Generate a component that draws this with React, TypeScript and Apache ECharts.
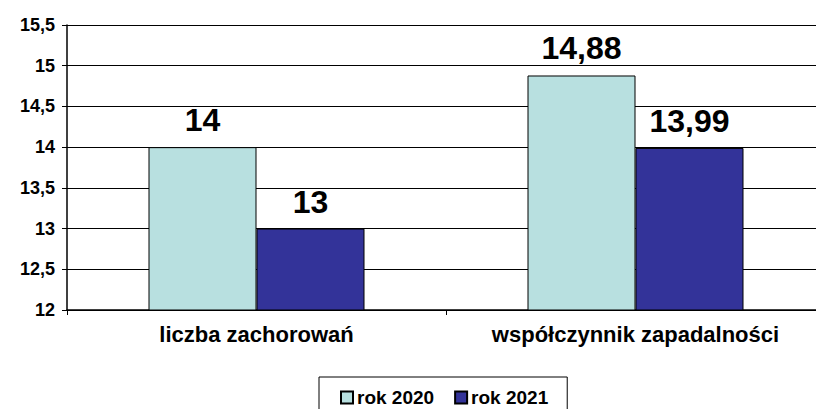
import React, { useEffect, useRef } from "react";
import * as echarts from "echarts";

const categories = ["liczba zachorowań", "współczynnik zapadalności"];
const series2020 = [14, 14.88];
const series2021 = [13, 13.99];
const seriesNames = ["rok 2020", "rok 2021"];

const fmt = (v: number) => String(v).replace(".", ",");

export default function App() {
  const ref = useRef<HTMLDivElement>(null);
  useEffect(() => {
    if (!ref.current) return;
    const chart = echarts.init(ref.current, null, { renderer: "svg" });
    const font = "Arial, 'Liberation Sans', sans-serif";
    const labelCfg = {
      show: true,
      position: "top" as const,
      distance: 11,
      fontSize: 32,
      fontWeight: "bold" as const,
      color: "#000",
      fontFamily: font,
      formatter: (p: any) => fmt(p.value),
    };
    chart.setOption({
      animation: false,
      backgroundColor: "#fff",
      textStyle: { fontFamily: font },
      grid: { left: 67, top: 25, width: 758, height: 285, containLabel: false, outerBoundsMode: "none" },
      legend: {
        data: seriesNames,
        left: 319,
        top: 377,
        orient: "horizontal",
        padding: [11, 19, 20, 21],
        itemGap: 20,
        itemWidth: 12,
        itemHeight: 12,
        icon: "rect",
        borderColor: "#000",
        borderWidth: 1,
        textStyle: { fontSize: 19, fontWeight: "bold", color: "#000", fontFamily: font, padding: [0, 0, 0, -1] },
      },
      xAxis: {
        type: "category",
        data: categories,
        axisLine: { lineStyle: { color: "#000", width: 1.5 } },
        axisTick: { show: true, length: 5, alignWithLabel: false, lineStyle: { color: "#000" } },
        axisLabel: { fontSize: 22, fontWeight: "bold", color: "#000", margin: 13, fontFamily: font },
      },
      yAxis: {
        type: "value",
        min: 12,
        max: 15.5,
        interval: 0.5,
        axisLine: { show: true, lineStyle: { color: "#000", width: 1.5 } },
        axisTick: { show: true, length: 5, inside: false, lineStyle: { color: "#000" } },
        splitLine: { show: true, lineStyle: { color: "#000", width: 1 } },
        axisLabel: {
          fontSize: 18,
          fontWeight: "bold",
          color: "#000",
          margin: 12,
          fontFamily: font,
          formatter: (v: number) => fmt(v),
        },
      },
      series: [
        {
          name: seriesNames[0],
          type: "bar",
          data: series2020,
          barWidth: 108,
          barGap: "0%",
          itemStyle: { color: "#B8E0E0", borderColor: "#000", borderWidth: 1 },
          label: labelCfg,
        },
        {
          name: seriesNames[1],
          type: "bar",
          data: series2021,
          barWidth: 108,
          barGap: "0%",
          itemStyle: { color: "#333399", borderColor: "#000", borderWidth: 1 },
          label: labelCfg,
        },
      ],
    });
    return () => chart.dispose();
  }, []);
  return (
    <div
      ref={ref}
      style={{ position: "fixed", left: 0, top: 0, width: 816, height: 409, background: "#fff" }}
    />
  );
}
